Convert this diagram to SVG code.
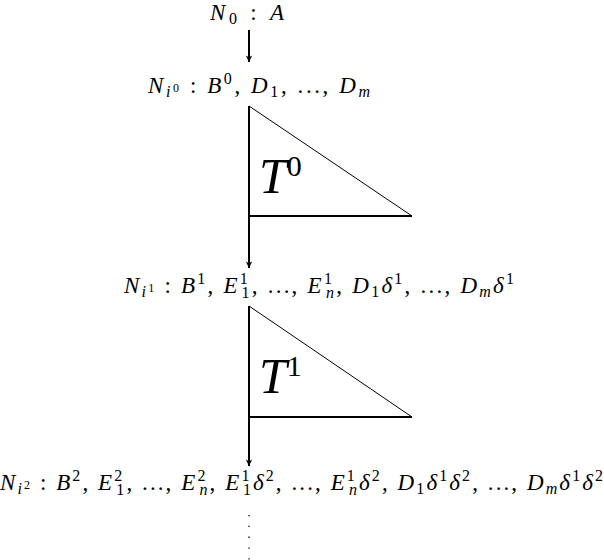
<svg xmlns="http://www.w3.org/2000/svg" width="604" height="560" viewBox="0 0 604 560" font-family="'Liberation Serif', 'DejaVu Serif', 'Times New Roman', serif">
<style>
text{fill:#000}
.t{font-size:23px}
.i{font-style:italic}
.s{font-size:16px}
.ss{font-size:12px}
.big{font-size:50px;font-style:italic}
.sup{font-size:30px;font-style:normal}
.ln{stroke:#000;stroke-width:2;fill:none}
.thin{stroke:#000;stroke-width:1;fill:none}
</style>
<defs>
<marker id="ah" viewBox="0 0 8 10" refX="8" refY="5" markerWidth="9" markerHeight="8" markerUnits="userSpaceOnUse" orient="auto">
<path d="M0,1 L8,5 L0,9 L2,5 Z" fill="#000"/>
</marker>
</defs>
<g id="connectors">
<line class="ln" x1="249" y1="30" x2="249" y2="62" marker-end="url(#ah)"/>
<line class="ln" x1="249" y1="217" x2="249" y2="268" marker-end="url(#ah)"/>
<line class="ln" x1="249" y1="418" x2="249" y2="466" marker-end="url(#ah)"/>
<line x1="249" y1="515" x2="249" y2="560" stroke="#000" stroke-width="1.3" stroke-dasharray="1.3,9.5"/>
</g>
<g id="tree0">
<path class="thin" d="M249,106 L412,216"/>
<line class="ln" x1="249" y1="106" x2="249" y2="217"/>
<line class="ln" x1="249" y1="216" x2="412" y2="216"/>
<text class="big" font-family="Liberation Serif" x="259" y="193">T<tspan class="sup" dy="-17">0</tspan></text>
</g>
<g id="tree1">
<path class="thin" d="M249,306 L412,417"/>
<line class="ln" x1="249" y1="306" x2="249" y2="418"/>
<line class="ln" x1="249" y1="417" x2="412" y2="417"/>
<text class="big" font-family="Liberation Serif" x="259" y="393">T<tspan class="sup" dy="-17">1</tspan></text>
</g>
<g id="node0">
<text class="t" font-family="Liberation Serif" x="210" y="20" textLength="74"><tspan class="i">N</tspan><tspan class="s" dy="4">0</tspan><tspan dy="-4"> : </tspan><tspan class="i">A</tspan></text>
</g>
<g id="node1">
<text class="t" font-family="Liberation Serif" x="148" y="93" textLength="222"><tspan class="i">N</tspan><tspan class="s i" dy="4">i</tspan><tspan class="ss" dy="-5">0</tspan><tspan dy="1"> : </tspan><tspan class="i">B</tspan><tspan class="s" dy="-9">0</tspan><tspan dy="9">, </tspan><tspan class="i">D</tspan><tspan class="s" dy="4">1</tspan><tspan dy="-4">, ..., </tspan><tspan class="i">D</tspan><tspan class="s i" dy="4">m</tspan></text>
</g>
<g id="node2">
<text class="t" font-family="Liberation Serif" x="124" y="293" textLength="390"><tspan class="i">N</tspan><tspan class="s i" dy="4">i</tspan><tspan class="ss" dy="-5">1</tspan><tspan dy="1"> : </tspan><tspan class="i">B</tspan><tspan class="s" dy="-9">1</tspan><tspan dy="9">, </tspan><tspan class="i">E</tspan><tspan class="s" dy="-9">1</tspan><tspan class="s" dx="-8" dy="14">1</tspan><tspan dy="-5">, ..., </tspan><tspan class="i">E</tspan><tspan class="s" dy="-9">1</tspan><tspan class="s i" dx="-8" dy="14">n</tspan><tspan dy="-5">, </tspan><tspan class="i">D</tspan><tspan class="s" dy="4">1</tspan><tspan class="i" dy="-4">δ</tspan><tspan class="s" dy="-9">1</tspan><tspan dy="9">, ..., </tspan><tspan class="i">D</tspan><tspan class="s i" dy="4">m</tspan><tspan class="i" dy="-4">δ</tspan><tspan class="s" dy="-9">1</tspan></text>
</g>
<g id="node3">
<text class="t" font-family="Liberation Serif" x="0" y="490" textLength="603"><tspan class="i">N</tspan><tspan class="s i" dy="4">i</tspan><tspan class="ss" dy="-5">2</tspan><tspan dy="1"> : </tspan><tspan class="i">B</tspan><tspan class="s" dy="-9">2</tspan><tspan dy="9">, </tspan><tspan class="i">E</tspan><tspan class="s" dy="-9">2</tspan><tspan class="s" dx="-8" dy="14">1</tspan><tspan dy="-5">, ..., </tspan><tspan class="i">E</tspan><tspan class="s" dy="-9">2</tspan><tspan class="s i" dx="-8" dy="14">n</tspan><tspan dy="-5">, </tspan><tspan class="i">E</tspan><tspan class="s" dy="-9">1</tspan><tspan class="s" dx="-8" dy="14">1</tspan><tspan class="i" dy="-5">δ</tspan><tspan class="s" dy="-9">2</tspan><tspan dy="9">, ..., </tspan><tspan class="i">E</tspan><tspan class="s" dy="-9">1</tspan><tspan class="s i" dx="-8" dy="14">n</tspan><tspan class="i" dy="-5">δ</tspan><tspan class="s" dy="-9">2</tspan><tspan dy="9">, </tspan><tspan class="i">D</tspan><tspan class="s" dy="4">1</tspan><tspan class="i" dy="-4">δ</tspan><tspan class="s" dy="-9">1</tspan><tspan class="i" dy="9">δ</tspan><tspan class="s" dy="-9">2</tspan><tspan dy="9">, ..., </tspan><tspan class="i">D</tspan><tspan class="s i" dy="4">m</tspan><tspan class="i" dy="-4">δ</tspan><tspan class="s" dy="-9">1</tspan><tspan class="i" dy="9">δ</tspan><tspan class="s" dy="-9">2</tspan></text>
</g>
</svg>
